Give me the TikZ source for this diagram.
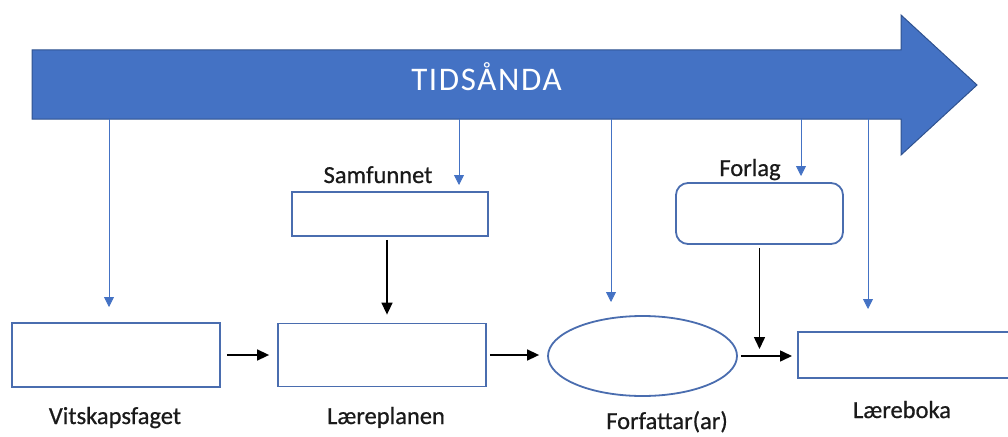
\documentclass[tikz,border=0pt]{standalone}
\usepackage{fontspec}
\setmainfont{Carlito}
\usetikzlibrary{arrows.meta,shapes.geometric,calc}
\definecolor{accent}{HTML}{4472C4}
\definecolor{accentdark}{HTML}{2F528F}
\definecolor{boxline}{HTML}{4A6DAF}
\definecolor{txt}{HTML}{1A1A1A}
\tikzset{
  boxnode/.style={draw=boxline, line width=1.8pt, fill=white, inner sep=0pt},
  lbl/.style={font=\fontsize{24.5}{28}\selectfont\addfontfeature{FakeBold=0.7}, text=txt, anchor=base, inner sep=0pt},
  blueconn/.style={draw=accent!80, line width=0.8pt, -{Triangle[length=10pt,width=10pt]}, color=accent},
  blackconn/.style={draw=black, line width=1.5pt, -{Triangle[length=12pt,width=11pt]}},
}
\begin{document}
\begin{tikzpicture}[x=1pt,y=-1pt]
\useasboundingbox (0,0) rectangle (1008,436);
% big arrow
\draw[fill=accent, draw=accentdark, line width=1pt]
  (32,50) -- (901,50) -- (901,15) -- (977,85) -- (901,155) -- (901,119) -- (32,119) -- cycle;
\node[font=\fontsize{33}{38}\selectfont\addfontfeature{LetterSpace=5}, text=white, anchor=base] (tid) at (486.5,90) {TIDSÅNDA};
% boxes
\node[boxnode, minimum width=208pt, minimum height=64pt] (vit) at (116,355) {};
\node[boxnode, minimum width=208pt, minimum height=63pt] (laer) at (382,355) {};
\node[boxnode, minimum width=196pt, minimum height=44pt] (samf) at (390,214) {};
\node[boxnode, rounded corners=12pt, minimum width=167pt, minimum height=61pt] (forl) at (759.5,213.5) {};
\node[boxnode, ellipse, minimum width=189pt, minimum height=80pt] (ell) at (642.5,356) {};
\node[boxnode, minimum width=230pt, minimum height=46pt, anchor=west] (bok) at (797,355) {};
% labels
\node[lbl] (lsamf) at (378,183) {Samfunnet};
\node[lbl] (lforl) at (750,176) {Forlag};
\node[lbl] (lvit) at (115,424) {Vitskapsfaget};
\node[lbl] (llaer) at (386,424) {Læreplanen};
\node[lbl] (lforf) at (667,429) {Forfattar(ar)};
\node[lbl] (lbok) at (902,418) {Læreboka};
% blue connectors from the arrow
\coordinate (a1) at (109,119); \coordinate (e1) at (109,307);
\coordinate (a2) at (459,119); \coordinate (e2) at (459,185);
\coordinate (a3) at (611,119); \coordinate (e3) at (611,302);
\coordinate (a4) at (801,119); \coordinate (e4) at (801,176);
\coordinate (a5) at (868,119); \coordinate (e5) at (868,309);
\foreach \i in {1,...,5} \draw[blueconn] (a\i) -- (e\i);
% black connectors
\draw[blackconn, shorten <=6pt, shorten >=8pt] (vit.east) -- (vit.east -| laer.west);
\draw[blackconn, shorten <=3pt, shorten >=8pt] (laer.east) -- (laer.east -| ell.west);
\draw[blackconn, shorten <=3pt, shorten >=5pt] (ell.east) -- (ell.east -| bok.west);
\draw[blackconn, shorten <=3pt, shorten >=8pt] ([xshift=-3pt]samf.south) -- ([xshift=-3pt]samf.south |- laer.north);
\coordinate (join) at (forl.south |- ell.east);
\draw[blackconn, shorten <=3pt, shorten >=7pt] (forl.south) -- (join);
\end{tikzpicture}
\end{document}
